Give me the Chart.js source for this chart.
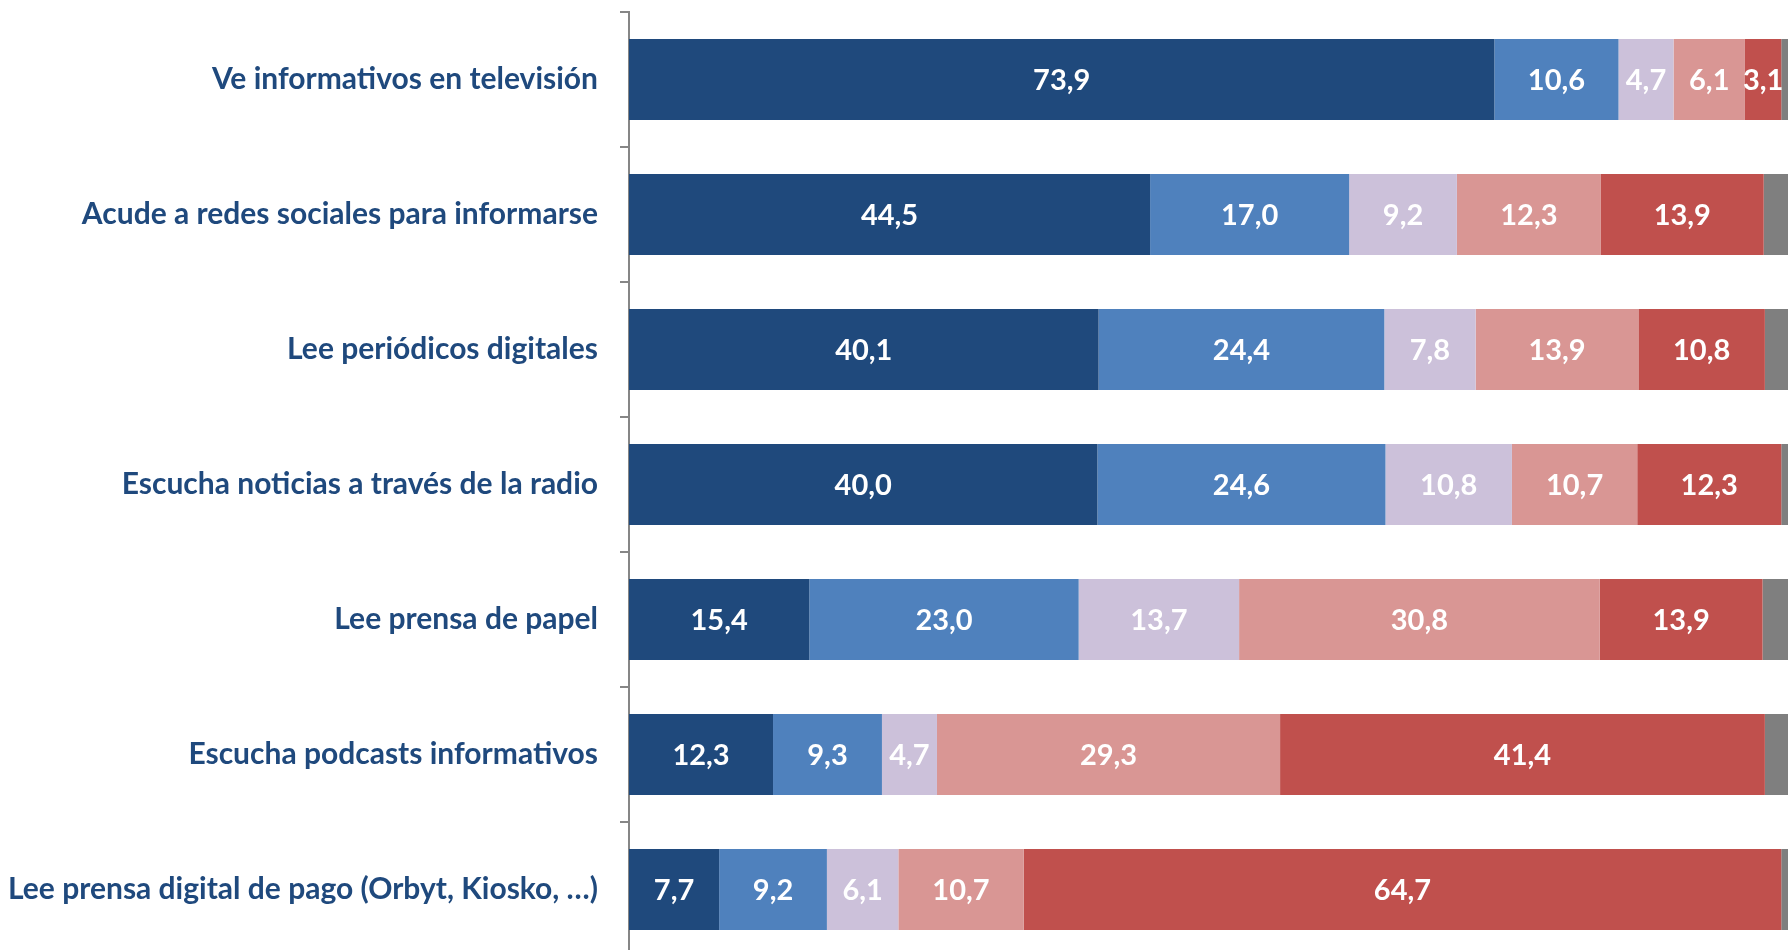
<!DOCTYPE html>
<html lang="es">
<head>
<meta charset="utf-8">
<title>Consumo de información</title>
<script src="https://cdn.jsdelivr.net/npm/chart.js@4"></script>
<style>
  html, body { margin: 0; padding: 0; background: #fff; overflow: hidden; }
  /* chart continues past the right and bottom edges, as in the cropped original */
  .chart-container { position: absolute; left: 0; top: -28px; width: 1810px; height: 1025px; }
</style>
</head>
<body>
<div class="chart-container"><canvas id="chart"></canvas></div>
<script>
const categories = [
  'Ve informativos en televisión',
  'Acude a redes sociales para informarse',
  'Lee periódicos digitales',
  'Escucha noticias a través de la radio',
  'Lee prensa de papel',
  'Escucha podcasts informativos',
  'Lee prensa digital de pago (Orbyt, Kiosko, …)'
];

const diariamente = [73.9, 44.5, 40.1, 40.0, 15.4, 12.3, 7.7];
const variasVecesSemana = [10.6, 17.0, 24.4, 24.6, 23.0, 9.3, 9.2];
const unaVezSemana = [4.7, 9.2, 7.8, 10.8, 13.7, 4.7, 6.1];
const conMenosFrecuencia = [6.1, 12.3, 13.9, 10.7, 30.8, 29.3, 10.7];
const nunca = [3.1, 13.9, 10.8, 12.3, 13.9, 41.4, 64.7];
const nsnc = [1.6, 3.1, 3.0, 1.6, 3.2, 3.0, 1.6];

const seriesNames = ['Diariamente', 'Varias veces por semana', 'Una vez por semana', 'Con menos frecuencia', 'Nunca', 'NS/NC'];
const seriesColors = ['#1F497C', '#4F81BD', '#CCC1DA', '#D99694', '#C0504D', '#7F7F7F'];
const seriesData = [diariamente, variasVecesSemana, unaVezSemana, conMenosFrecuencia, nunca, nsnc];

// white value labels centred in each segment (not on the NS/NC one)
const segmentLabels = {
  id: 'segmentLabels',
  afterDatasetsDraw(chart) {
    const ctx = chart.ctx;
    ctx.save();
    ctx.font = 'bold 29px Lato';
    ctx.fillStyle = '#ffffff';
    ctx.textAlign = 'center';
    ctx.textBaseline = 'middle';
    chart.data.datasets.forEach((ds, i) => {
      if (ds.hideLabels) return;
      chart.getDatasetMeta(i).data.forEach((bar, j) => {
        const txt = ds.data[j].toFixed(1).replace('.', ',');
        ctx.fillText(txt, (bar.x + bar.base) / 2, bar.y + 1);
      });
    });
    ctx.restore();
  }
};

new Chart(document.getElementById('chart'), {
  type: 'bar',
  data: {
    labels: categories,
    datasets: seriesData.map((d, i) => ({
      label: seriesNames[i],
      data: d,
      backgroundColor: seriesColors[i],
      borderWidth: 0,
      barPercentage: 0.6,
      categoryPercentage: 1,
      hideLabels: i === 5
    }))
  },
  options: {
    indexAxis: 'y',
    responsive: true,
    maintainAspectRatio: false,
    animation: false,
    layout: { padding: { top: 0, right: 10, bottom: 0, left: 0 } },
    scales: {
      x: {
        stacked: true,
        min: 0,
        max: 100,
        display: false
      },
      y: {
        stacked: true,
        afterFit: scale => { scale.width = 629; },
        border: { color: '#868686', width: 2 },
        grid: {
          offset: true,
          drawOnChartArea: false,
          tickLength: 9,
          color: '#868686',
          lineWidth: 2
        },
        ticks: {
          color: '#1F497D',
          padding: 22,
          font: { family: 'Lato', size: 30, weight: 'bold' }
        }
      }
    },
    plugins: {
      legend: { display: false },
      tooltip: { enabled: false }
    }
  },
  plugins: [segmentLabels]
});
</script>
</body>
</html>
